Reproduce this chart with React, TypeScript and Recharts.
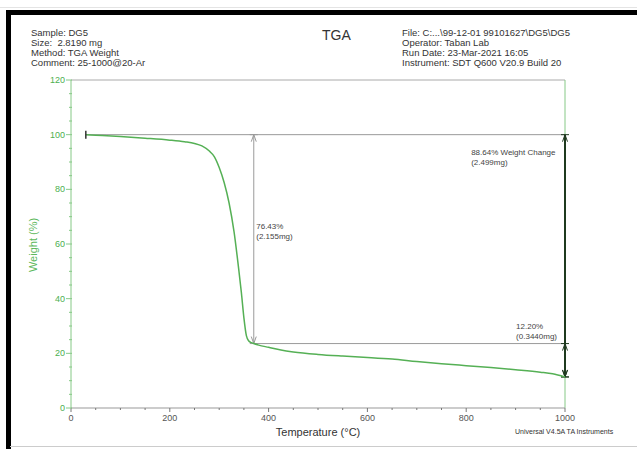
import React from 'react';
import {
  LineChart, Line, XAxis, YAxis, ReferenceLine, ReferenceDot,
} from 'recharts';

// TGA curve: temperature (°C) vs weight (%)
const temps = [30, 50, 100, 150, 200, 230, 250, 265, 280, 290, 300, 310, 320, 330, 340, 345, 350, 355, 360, 365, 370, 380, 400, 425, 450, 500, 550, 600, 650, 700, 750, 800, 850, 900, 950, 975, 1000];
const weights = [100, 99.8, 99.3, 98.7, 98.0, 97.4, 96.8, 95.9, 94.0, 92.0, 88.0, 82.5, 75.0, 64.5, 50.0, 42.0, 33.0, 26.5, 24.5, 23.9, 23.57, 23.0, 22.2, 21.2, 20.5, 19.6, 19.0, 18.5, 17.9, 17.0, 16.2, 15.5, 14.8, 14.0, 13.1, 12.5, 11.36];

const xTicks = Array.from({ length: 21 }, (_, i) => i * 50);
const yTicks = Array.from({ length: 25 }, (_, i) => i * 5);

// step analysis markers
const startT = 30;
const stepT = 370;
const endT = 1000;
const startW = 100;
const midW = 23.57;
const endW = 11.36;

const data = temps.map((t, i) => ({ t, w: weights[i] }));

const FONT = '"Liberation Sans", Arial, sans-serif';
const GREEN = '#55b055';
const AXIS_GREEN = '#86c986';
const GREY = '#9a9a9a';
const DARK = '#1f3a1f';
const TEXT = '#444';

const YTick = (p: any) => {
  const { x, y, payload } = p;
  const major = payload.value % 20 === 0;
  return (
    <g>
      <line x1={major ? x - 5 : x - 2} x2={x + 1} y1={y} y2={y} stroke={AXIS_GREEN} />
      {major && (
        <text x={x - 6} y={y} dy={3} textAnchor="end" fontSize={9} fill="#4caf50" fontFamily={FONT}>
          {payload.value}
        </text>
      )}
    </g>
  );
};

const XTick = (p: any) => {
  const { x, y, payload } = p;
  const major = payload.value % 200 === 0;
  return (
    <g>
      <line x1={x} x2={x} y1={y} y2={y + (major ? 4 : 2)} stroke="#777" />
      {major && (
        <text x={x} y={y + 13} textAnchor="middle" fontSize={9} fill="#555" fontFamily={FONT}>
          {payload.value}
        </text>
      )}
    </g>
  );
};

// vertical double arrow, first segment point is the top
const arrow = (color: string, width: number) => (p: any) => {
  const { x1, y1, x2, y2 } = p;
  return (
    <g stroke={color} strokeWidth={width} fill="none">
      <line x1={x1} y1={y1} x2={x2} y2={y2} />
      <polyline points={`${x1 - 2.5},${y1 + 7} ${x1},${y1} ${x1 + 2.5},${y1 + 7}`} strokeWidth={1} />
      <polyline points={`${x2 - 2.5},${y2 - 7} ${x2},${y2} ${x2 + 2.5},${y2 - 7}`} strokeWidth={1} />
      <line x1={x1 - 4} x2={x1 + 4} y1={y1} y2={y1} strokeWidth={1} />
      <line x1={x2 - 4} x2={x2 + 4} y1={y2} y2={y2} strokeWidth={1} />
    </g>
  );
};

const note = (lines: string[]) => (p: any) => (
  <text x={p.cx} y={p.cy} fontSize={8} fill={TEXT} fontFamily={FONT}>
    {lines.map((s, i) => (
      <tspan key={i} x={p.cx} dy={i === 0 ? 0 : 10}>{s}</tspan>
    ))}
  </text>
);

const startMark = (p: any) => (
  <line x1={p.cx} x2={p.cx} y1={p.cy - 4} y2={p.cy + 4} stroke="#333" strokeWidth={1.5} />
);

const txt: React.CSSProperties = { position: 'absolute', fontFamily: FONT, color: '#333', whiteSpace: 'nowrap' };

export default function App() {
  return (
    <div style={{ position: 'absolute', left: 0, top: 0, width: 637, height: 449, background: '#fff', overflow: 'hidden' }}>
      <div style={{ ...txt, left: 31, top: 28, fontSize: 9.5, lineHeight: '10px' }}>
        Sample: DG5<br />Size:&nbsp; 2.8190 mg<br />Method: TGA Weight<br />Comment: 25-1000@20-Ar
      </div>
      <div style={{ ...txt, left: 322, top: 27, fontSize: 14 }}>TGA</div>
      <div style={{ ...txt, left: 402, top: 28, fontSize: 9.5, lineHeight: '10px' }}>
        File: C:...\99-12-01 99101627\DG5\DG5<br />Operator: Taban Lab<br />Run Date: 23-Mar-2021 16:05<br />Instrument: SDT Q600 V20.9 Build 20
      </div>

      <div style={{ position: 'absolute', left: 0, top: 0 }}>
        <LineChart width={637} height={449} data={data} margin={{ top: 80, right: 72, bottom: 21, left: 30 }}>
          <XAxis
            dataKey="t" type="number" domain={[0, 1000]} ticks={xTicks} interval={0}
            height={20} tickSize={0} tickMargin={0} tickLine={false}
            axisLine={{ stroke: '#999' }} tick={<XTick />}
          />
          <YAxis
            type="number" domain={[0, 120]} ticks={yTicks} interval={0}
            width={41} tickSize={0} tickMargin={0} tickLine={false}
            axisLine={{ stroke: AXIS_GREEN }} tick={<YTick />}
          />
          <ReferenceLine y={120} stroke="#aaa" />
          <ReferenceLine x={1000} stroke={AXIS_GREEN} />
          <ReferenceLine segment={[{ x: startT, y: startW }, { x: endT, y: startW }]} stroke={GREY} />
          <ReferenceLine segment={[{ x: stepT, y: midW }, { x: endT, y: midW }]} stroke={GREY} />
          <ReferenceLine segment={[{ x: stepT, y: startW }, { x: stepT, y: midW }]} shape={arrow(GREY, 1)} />
          <ReferenceLine segment={[{ x: endT, y: startW }, { x: endT, y: endW }]} shape={arrow(DARK, 2)} />
          <ReferenceLine segment={[{ x: endT, y: midW }, { x: endT, y: endW }]} shape={arrow(DARK, 2)} />
          <ReferenceDot x={startT} y={startW} shape={startMark} />
          <ReferenceDot x={375} y={65.5} shape={note(['76.43%', '(2.155mg)'])} />
          <ReferenceDot x={810} y={92.6} shape={note(['88.64% Weight Change', '(2.499mg)'])} />
          <ReferenceDot x={901} y={28.9} shape={note(['12.20%', '(0.3440mg)'])} />
          <Line type="monotone" dataKey="w" stroke={GREEN} strokeWidth={1.5} dot={false} isAnimationActive={false} />
        </LineChart>
      </div>

      <div style={{ ...txt, left: 33, top: 245, fontSize: 11, color: '#5cb85c', transform: 'translate(-50%, -50%) rotate(-90deg)' }}>
        Weight (%)
      </div>
      <div style={{ ...txt, left: 318, top: 426, fontSize: 11, transform: 'translateX(-50%)' }}>Temperature (°C)</div>
      <div style={{ ...txt, left: 515, top: 428, fontSize: 7 }}>Universal V4.5A TA Instruments</div>

      {/* scanned frame */}
      <svg width={637} height={449} style={{ position: 'absolute', left: 0, top: 0, zIndex: 10, pointerEvents: 'none' }}>
        <rect x={6} y={10} width={631} height={5} fill="#000" />
        <rect x={6} y={10} width={5} height={439} fill="#000" />
        <rect x={10} y={446} width={627} height={1} fill="#ccc" />
        <rect x={0} y={7} width={637} height={1} fill="#e4e4e4" />
      </svg>
    </div>
  );
}
